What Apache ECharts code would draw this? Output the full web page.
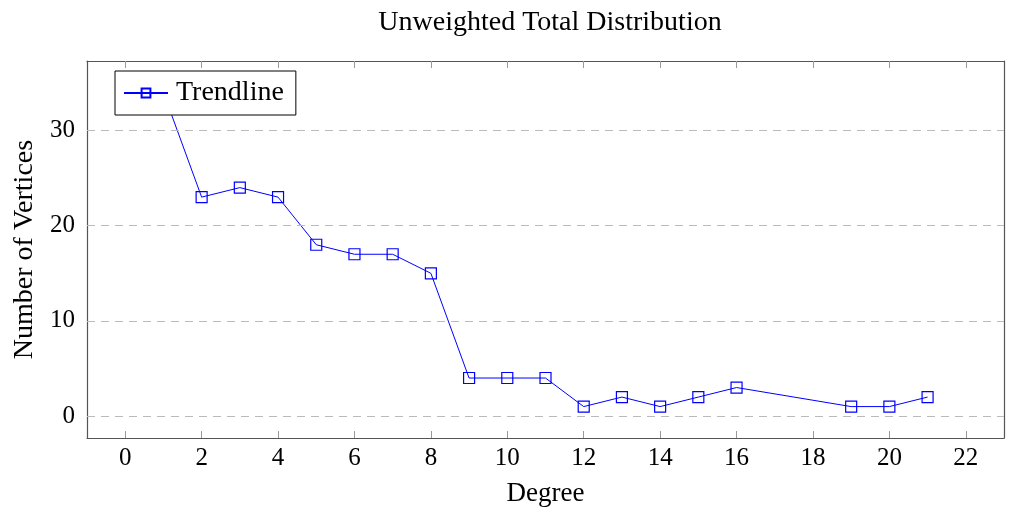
<!DOCTYPE html>
<html>
<head>
<meta charset="utf-8">
<script src="https://cdn.jsdelivr.net/npm/echarts@6/dist/echarts.min.js"></script>
<style>
  html, body { margin: 0; padding: 0; background: #fff; }
  #chart { width: 1012px; height: 512px; }
</style>
</head>
<body>
<div id="chart"></div>
<script>
// data
let degree = [1, 2, 3, 4, 5, 6, 7, 8, 9, 10, 11, 12, 13, 14, 15, 16, 19, 20, 21];
let vertices = [34, 23, 24, 23, 18, 17, 17, 15, 4, 4, 4, 1, 2, 1, 2, 3, 1, 1, 2];
let x_ticks = [0, 2, 4, 6, 8, 10, 12, 14, 16, 18, 20, 22];
let y_ticks = [0, 10, 20, 30];

let chart_font = "'Liberation Serif', 'DejaVu Serif', serif";
let chart = echarts.init(document.getElementById("chart"));

//--------------------Axes--------------------
let box_line = {show: true, onZero: false, lineStyle: {color: '#555', width: 1.2}};
let inside_tick = {show: true, inside: true, length: 7, lineStyle: {color: '#999', width: 1}};

let x_axis_bottom = {
    type: 'value', min: -1, max: 23,
    axisLine: box_line,
    axisTick: Object.assign({}, inside_tick, {customValues: x_ticks}),
    axisLabel: {customValues: x_ticks, color: '#000', fontFamily: chart_font, fontSize: 25, margin: 8},
    splitLine: {show: false},
    name: 'Degree', nameLocation: 'middle', nameGap: 42,
    nameTextStyle: {color: '#000', fontFamily: chart_font, fontSize: 27}
};
let x_axis_top = {
    type: 'value', min: -1, max: 23, position: 'top',
    axisLine: box_line,
    axisTick: Object.assign({}, inside_tick, {customValues: x_ticks}),
    axisLabel: {show: false},
    splitLine: {show: false}
};
let y_axis_left = {
    type: 'value', min: -2.3, max: 37.3,
    axisLine: box_line,
    axisTick: Object.assign({}, inside_tick, {customValues: y_ticks}),
    axisLabel: {customValues: y_ticks, color: '#000', fontFamily: chart_font, fontSize: 25, margin: 12},
    splitLine: {show: false},
    name: 'Number of Vertices', nameLocation: 'middle', nameGap: 47,
    nameTextStyle: {color: '#000', fontFamily: chart_font, fontSize: 28}
};
let y_axis_right = {
    type: 'value', min: -2.3, max: 37.3, position: 'right',
    axisLine: box_line,
    axisTick: Object.assign({}, inside_tick, {customValues: y_ticks}),
    axisLabel: {show: false},
    splitLine: {show: false}
};

//---------------------Series---------------------
let trend_series = {
    name: 'Trendline',
    type: 'line',
    xAxisIndex: 0,
    yAxisIndex: 0,
    data: degree.map((d, i) => [d, vertices[i]]),
    symbol: 'rect',
    symbolSize: 11,
    lineStyle: {color: '#0000ff', width: 1},
    itemStyle: {color: 'rgba(0,0,0,0)', borderColor: '#0000ff', borderWidth: 1.2},
    markLine: {
        silent: true,
        symbol: 'none',
        label: {show: false},
        lineStyle: {color: '#bbb', type: [8, 6], width: 1},
        data: y_ticks.map(v => ({yAxis: v}))
    },
    z: 3
};

//------------------Generate Graph------------------
let option = {
    backgroundColor: '#fff',
    animation: false,
    title: {
        text: 'Unweighted Total Distribution',
        left: 545, top: 4, textAlign: 'center',
        textStyle: {color: '#000', fontFamily: chart_font, fontSize: 28, fontWeight: 'normal'}
    },
    legend: {
        left: 115, top: 71,
        orient: 'vertical',
        backgroundColor: '#fff',
        borderColor: '#000', borderWidth: 1, borderRadius: 0,
        padding: [8, 12, 8, 8],
        itemWidth: 44, itemHeight: 11,
        textStyle: {color: '#000', fontFamily: chart_font, fontSize: 28, padding: [0, 0, 0, 3]},
        data: ['Trendline']
    },
    grid: {left: 87, right: 8, top: 61, bottom: 74, containLabel: false},
    xAxis: [x_axis_bottom, x_axis_top],
    yAxis: [y_axis_left, y_axis_right],
    series: [trend_series]
};
chart.setOption(option, true);
</script>
</body>
</html>
